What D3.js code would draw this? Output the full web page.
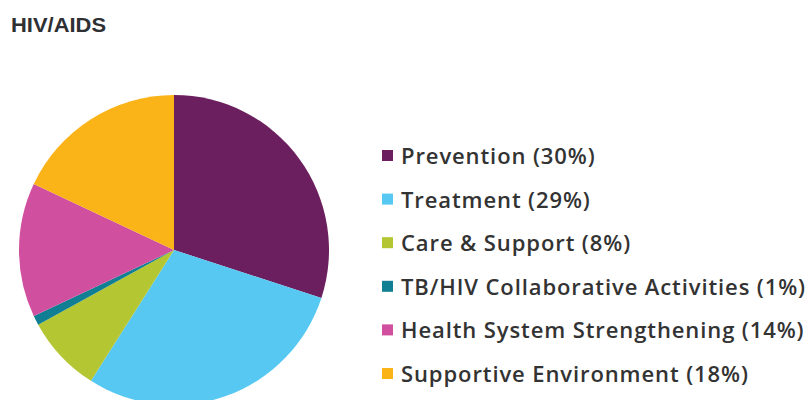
<!DOCTYPE html>
<html>
<head>
<meta charset="utf-8">
<script src="https://cdn.jsdelivr.net/npm/d3@7"></script>
<style>
  html, body { margin: 0; padding: 0; background: #fff; }
  svg { display: block; }
</style>
</head>
<body>
<svg id="chart" width="808" height="400"></svg>
<script>
const title = "HIV/AIDS";
const categories = ["Prevention", "Treatment", "Care & Support", "TB/HIV Collaborative Activities", "Health System Strengthening", "Supportive Environment"];
const values = [30, 29, 8, 1, 14, 18];
const colors = ["#6b1f5f", "#56c8f1", "#b4c631", "#117f93", "#d14f9f", "#fab417"];

const svg = d3.select("#chart");

svg.append("text")
  .attr("x", 11).attr("y", 32)
  .attr("font-family", "Liberation Sans, Arial, sans-serif")
  .attr("font-weight", "bold")
  .attr("font-size", 21)
  .attr("fill", "#2f3033")
  .attr("textLength", 95)
  .attr("lengthAdjust", "spacingAndGlyphs")
  .text(title);

const cx = 174, cy = 250, r = 155;
const data = categories.map((c, i) => ({ name: c, value: values[i], color: colors[i] }));
const pie = d3.pie().sort(null).value(d => d.value);
const arc = d3.arc().innerRadius(0).outerRadius(r);

svg.append("g")
  .attr("transform", `translate(${cx},${cy})`)
  .selectAll("path")
  .data(pie(data))
  .join("path")
  .attr("d", arc)
  .attr("fill", d => d.data.color);

const legendY = d3.scalePoint().domain(categories).range([156, 374]);
const lg = svg.append("g");
const items = lg.selectAll("g").data(data).join("g")
  .attr("transform", d => `translate(0,${legendY(d.name)})`);
items.append("rect")
  .attr("x", 382).attr("y", -6).attr("width", 11).attr("height", 11)
  .attr("fill", d => d.color);
items.append("text")
  .attr("x", 401).attr("y", 8)
  .attr("font-family", "Open Sans, sans-serif")
  .attr("font-size", 22)
  .attr("font-weight", 600)
  .attr("letter-spacing", 0.9)
  .attr("fill", "#333333")
  .text(d => `${d.name} (${d.value}%)`);
</script>
</body>
</html>
